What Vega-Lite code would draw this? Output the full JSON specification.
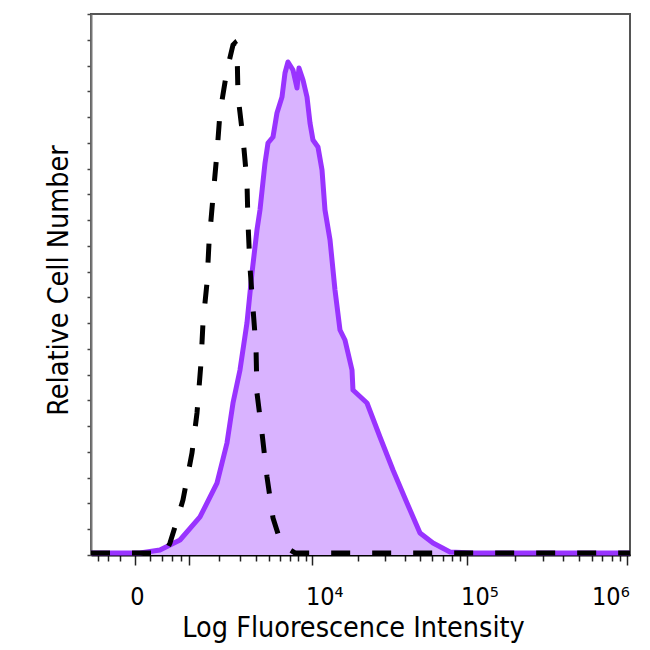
{
  "$schema": "https://vega.github.io/schema/vega-lite/v6.json",
  "autosize": "none",
  "width": 539,
  "height": 541,
  "padding": {"left": 91, "top": 14, "right": 20, "bottom": 95},
  "background": "white",
  "config": {
    "view": {"stroke": "#555", "strokeWidth": 2},
    "font": "DejaVu Sans Condensed",
    "axis": {"grid": false}
  },
  "data": {
    "values": [
      {"series": "Stained", "intensity": -749, "count": 0.39},
      {"series": "Stained", "intensity": -204, "count": 0.39},
      {"series": "Stained", "intensity": 63, "count": 0.39},
      {"series": "Stained", "intensity": 367, "count": 0.97},
      {"series": "Stained", "intensity": 773, "count": 2.91},
      {"series": "Stained", "intensity": 1313, "count": 7.38},
      {"series": "Stained", "intensity": 1911, "count": 13.97},
      {"series": "Stained", "intensity": 2338, "count": 21.74},
      {"series": "Stained", "intensity": 2625, "count": 29.5},
      {"series": "Stained", "intensity": 2993, "count": 35.91},
      {"series": "Stained", "intensity": 3398, "count": 45.03},
      {"series": "Stained", "intensity": 3715, "count": 54.73},
      {"series": "Stained", "intensity": 4055, "count": 63.08},
      {"series": "Stained", "intensity": 4271, "count": 66.96},
      {"series": "Stained", "intensity": 4654, "count": 76.08},
      {"series": "Stained", "intensity": 4895, "count": 79.96},
      {"series": "Stained", "intensity": 5324, "count": 81.13},
      {"series": "Stained", "intensity": 5687, "count": 85.79},
      {"series": "Stained", "intensity": 6176, "count": 88.89},
      {"series": "Stained", "intensity": 6485, "count": 93.55},
      {"series": "Stained", "intensity": 6807, "count": 95.68},
      {"series": "Stained", "intensity": 7378, "count": 94.13},
      {"series": "Stained", "intensity": 7867, "count": 90.64},
      {"series": "Stained", "intensity": 8118, "count": 94.52},
      {"series": "Stained", "intensity": 8653, "count": 92.19},
      {"series": "Stained", "intensity": 9215, "count": 88.89},
      {"series": "Stained", "intensity": 9656, "count": 83.85},
      {"series": "Stained", "intensity": 10115, "count": 80.55},
      {"series": "Stained", "intensity": 10931, "count": 79.19},
      {"series": "Stained", "intensity": 11635, "count": 74.72},
      {"series": "Stained", "intensity": 12181, "count": 66.96},
      {"series": "Stained", "intensity": 13158, "count": 61.14},
      {"series": "Stained", "intensity": 14195, "count": 51.43},
      {"series": "Stained", "intensity": 15317, "count": 43.67},
      {"series": "Stained", "intensity": 16516, "count": 41.73},
      {"series": "Stained", "intensity": 18360, "count": 35.91},
      {"series": "Stained", "intensity": 18632, "count": 32.02},
      {"series": "Stained", "intensity": 22976, "count": 29.5},
      {"series": "Stained", "intensity": 27863, "count": 22.9},
      {"series": "Stained", "intensity": 33762, "count": 16.5},
      {"series": "Stained", "intensity": 41480, "count": 10.09},
      {"series": "Stained", "intensity": 50176, "count": 4.27},
      {"series": "Stained", "intensity": 60656, "count": 2.33},
      {"series": "Stained", "intensity": 77673, "count": 0.58},
      {"series": "Stained", "intensity": 108375, "count": 0.39},
      {"series": "Stained", "intensity": 1041800, "count": 0.39},
      {"series": "Isotype", "intensity": -749, "count": 0.39},
      {"series": "Isotype", "intensity": -300, "count": 0.39},
      {"series": "Isotype", "intensity": 100, "count": 0.39},
      {"series": "Isotype", "intensity": 458, "count": 0.39},
      {"series": "Isotype", "intensity": 555, "count": 2.33},
      {"series": "Isotype", "intensity": 660, "count": 5.43},
      {"series": "Isotype", "intensity": 844, "count": 10.67},
      {"series": "Isotype", "intensity": 1078, "count": 19.8},
      {"series": "Isotype", "intensity": 1222, "count": 27.56},
      {"series": "Isotype", "intensity": 1344, "count": 37.26},
      {"series": "Isotype", "intensity": 1408, "count": 45.03},
      {"series": "Isotype", "intensity": 1541, "count": 52.79},
      {"series": "Isotype", "intensity": 1612, "count": 60.55},
      {"series": "Isotype", "intensity": 1757, "count": 69.48},
      {"series": "Isotype", "intensity": 1911, "count": 78.02},
      {"series": "Isotype", "intensity": 2032, "count": 85.79},
      {"series": "Isotype", "intensity": 2338, "count": 94.13},
      {"series": "Isotype", "intensity": 2625, "count": 98.98},
      {"series": "Isotype", "intensity": 2727, "count": 99.37},
      {"series": "Isotype", "intensity": 2830, "count": 98.79},
      {"series": "Isotype", "intensity": 2884, "count": 89.09},
      {"series": "Isotype", "intensity": 3162, "count": 80.93},
      {"series": "Isotype", "intensity": 3398, "count": 72.39},
      {"series": "Isotype", "intensity": 3461, "count": 64.43},
      {"series": "Isotype", "intensity": 3585, "count": 55.9},
      {"series": "Isotype", "intensity": 3780, "count": 47.94},
      {"series": "Isotype", "intensity": 3987, "count": 40.18},
      {"series": "Isotype", "intensity": 4055, "count": 31.44},
      {"series": "Isotype", "intensity": 4422, "count": 23.68},
      {"series": "Isotype", "intensity": 4815, "count": 15.14},
      {"series": "Isotype", "intensity": 5324, "count": 7.18},
      {"series": "Isotype", "intensity": 5975, "count": 2.91},
      {"series": "Isotype", "intensity": 6700, "count": 1.36},
      {"series": "Isotype", "intensity": 7619, "count": 0.39},
      {"series": "Isotype", "intensity": 20000, "count": 0.39},
      {"series": "Isotype", "intensity": 100000, "count": 0.39},
      {"series": "Isotype", "intensity": 1041800, "count": 0.39}
    ]
  },
  "encoding": {
    "x": {
      "field": "intensity",
      "type": "quantitative",
      "scale": {"type": "symlog", "constant": 850, "domain": [-749, 1041800], "nice": false},
      "axis": {
        "title": "Log Fluorescence Intensity",
        "values": [-600, -400, -200, 0, 200, 400, 600, 800, 1000, 2000, 3000, 4000, 5000, 6000, 7000, 8000, 9000, 10000, 20000, 30000, 40000, 50000, 60000, 70000, 80000, 90000, 100000, 200000, 300000, 400000, 500000, 600000, 700000, 800000, 900000, 1000000],
        "labelExpr": "datum.value == 0 ? '0' : datum.value == 10000 ? '10⁴' : datum.value == 100000 ? '10⁵' : datum.value == 1000000 ? '10⁶' : ''",
        "labelOverlap": false,
        "labelBound": false,
        "labelFlush": false,
        "labelFontSize": 25,
        "labelColor": "black",
        "labelPadding": 19,
        "labelAlign": {"condition": {"test": "datum.value >= 1000000", "value": "right"}, "value": "center"},
        "labelOffset": {"condition": {"test": "datum.value == 10000 || datum.value == 100000", "value": 12}, "value": 2},
        "tickSize": {"condition": {"test": "datum.value == 0 || datum.value == 1000 || datum.value == 10000 || datum.value == 100000 || datum.value == 1000000", "value": 10}, "value": 6},
        "tickColor": "#222",
        "tickWidth": 1.5,
        "domainColor": "black",
        "domainWidth": 2,
        "titleFontSize": 28.5,
        "titleFontWeight": "normal",
        "titleColor": "black",
        "titlePadding": 4,
        "titleX": 262
      }
    },
    "y": {
      "field": "count",
      "type": "quantitative",
      "scale": {"domain": [0, 105], "nice": false},
      "axis": {
        "title": "Relative Cell Number",
        "values": [0, 5, 10, 15, 20, 25, 30, 35, 40, 45, 50, 55, 60, 65, 70, 75, 80, 85, 90, 95, 100, 105],
        "labels": false,
        "tickSize": 4,
        "tickColor": "#444",
        "tickWidth": 1.5,
        "domainColor": "#777",
        "domainWidth": 2,
        "titleFontSize": 28.5,
        "titleFontWeight": "normal",
        "titleColor": "black",
        "titlePadding": 13,
        "titleY": 266
      }
    }
  },
  "layer": [
    {
      "transform": [{"filter": "datum.series == 'Stained'"}],
      "mark": {"type": "area", "color": "#D9B3FF", "opacity": 1}
    },
    {
      "transform": [{"filter": "datum.series == 'Stained'"}],
      "mark": {"type": "line", "color": "#9933FF", "strokeWidth": 5, "strokeJoin": "round"}
    },
    {
      "transform": [{"filter": "datum.series == 'Isotype'"}],
      "mark": {"type": "line", "color": "black", "strokeWidth": 5, "strokeDash": [19, 22]}
    }
  ]
}
